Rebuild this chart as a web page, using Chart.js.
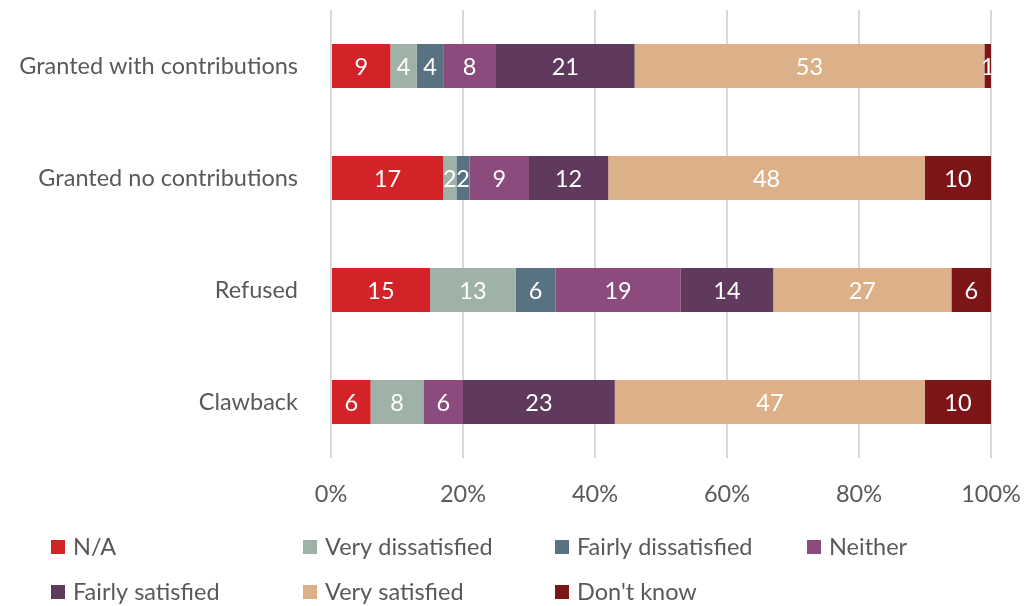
<!DOCTYPE html>
<html lang="en">
<head>
    <meta charset="UTF-8">
    <title>Satisfaction by outcome</title>
    <style>
        body {
            margin: 0;
            background: #ffffff;
        }

        #chart-container {
            width: 1024px;
            height: 606px;
        }
    </style>
    <script src="https://cdn.jsdelivr.net/npm/chart.js"></script>
</head>
<body>
    <div id="chart-container">
        <canvas id="outcomeChart"></canvas>
    </div>
    <script>
        const categories = ['Granted with contributions', 'Granted no contributions', 'Refused', 'Clawback'];
        const seriesNames = ['N/A', 'Very dissatisfied', 'Fairly dissatisfied', 'Neither', 'Fairly satisfied', 'Very satisfied', "Don't know"];
        const naValues = [9, 17, 15, 6];
        const veryDissatisfied = [4, 2, 13, 8];
        const fairlyDissatisfied = [4, 2, 6, 0];
        const neitherValues = [8, 9, 19, 6];
        const fairlySatisfied = [21, 12, 14, 23];
        const verySatisfied = [53, 48, 27, 47];
        const dontKnow = [1, 10, 6, 10];
        const xTicks = [0, 20, 40, 60, 80, 100];

        const seriesValues = [naValues, veryDissatisfied, fairlyDissatisfied, neitherValues, fairlySatisfied, verySatisfied, dontKnow];
        const colours = ['#D42229', '#9FB2A7', '#587282', '#8B4C7D', '#603A5C', '#DCB189', '#7C1517'];

        const fontFamily = 'Lato, "Open Sans", sans-serif';
        const fontSize = 23.5;
        const textColour = '#595959';

        // white numbers in the middle of each segment
        const segmentLabels = {
            id: 'segmentLabels',
            afterDatasetsDraw(chart) {
                const ctx = chart.ctx;
                ctx.save();
                ctx.fillStyle = '#ffffff';
                ctx.font = fontSize + 'px ' + fontFamily;
                ctx.textAlign = 'center';
                ctx.textBaseline = 'middle';
                chart.data.datasets.forEach((ds, i) => {
                    chart.getDatasetMeta(i).data.forEach((bar, j) => {
                        const v = ds.data[j];
                        if (!v) return;
                        const mid = (bar.x + bar.base) / 2;
                        ctx.fillText(String(v), mid, bar.y + 1);
                    });
                });
                ctx.restore();
            }
        };

        // legend laid out on a fixed grid, 4 columns
        const gridLegend = {
            id: 'gridLegend',
            afterDraw(chart) {
                const ctx = chart.ctx;
                ctx.save();
                ctx.font = fontSize + 'px ' + fontFamily;
                ctx.textBaseline = 'middle';
                ctx.textAlign = 'left';
                chart.data.datasets.forEach((ds, i) => {
                    const col = i % 4;
                    const row = Math.floor(i / 4);
                    const x = 51 + col * 252;
                    const y = 547 + row * 45;
                    ctx.fillStyle = ds.backgroundColor;
                    ctx.fillRect(x, y - 7, 14, 14);
                    ctx.fillStyle = textColour;
                    ctx.fillText(ds.label, x + 22, y);
                });
                ctx.restore();
            }
        };

        const datasets = seriesNames.map((name, i) => ({
            label: name,
            data: seriesValues[i],
            backgroundColor: colours[i],
            borderWidth: 0,
            barPercentage: 1,
            categoryPercentage: 0.393
        }));

        function noScalePadding(scale) {
            scale.paddingLeft = 0;
            scale.paddingRight = 0;
            scale.paddingTop = 0;
            scale.paddingBottom = 0;
        }

        const ctx = document.getElementById('outcomeChart').getContext('2d');
        new Chart(ctx, {
            type: 'bar',
            data: {
                labels: categories,
                datasets: datasets
            },
            options: {
                indexAxis: 'y',
                responsive: true,
                maintainAspectRatio: false,
                animation: false,
                layout: {
                    padding: { left: 0, right: 33, top: 10, bottom: 98 }
                },
                scales: {
                    x: {
                        stacked: true,
                        min: 0,
                        max: 100,
                        afterBuildTicks(scale) {
                            scale.ticks = xTicks.map(v => ({ value: v }));
                        },
                        afterFit(scale) {
                            scale.height = 50;
                            noScalePadding(scale);
                        },
                        grid: {
                            color: '#D9D9D9',
                            lineWidth: 2,
                            drawTicks: false
                        },
                        border: { display: false },
                        ticks: {
                            padding: 22,
                            maxRotation: 0,
                            color: textColour,
                            font: { family: fontFamily, size: fontSize },
                            callback: v => v + '%'
                        }
                    },
                    y: {
                        stacked: true,
                        afterFit(scale) {
                            scale.width = 331;
                            noScalePadding(scale);
                        },
                        grid: { display: false },
                        border: { display: false },
                        ticks: {
                            padding: 25,
                            color: textColour,
                            font: { family: fontFamily, size: fontSize }
                        }
                    }
                },
                plugins: {
                    legend: { display: false },
                    tooltip: { enabled: false }
                }
            },
            plugins: [segmentLabels, gridLegend]
        });
    </script>
</body>
</html>
